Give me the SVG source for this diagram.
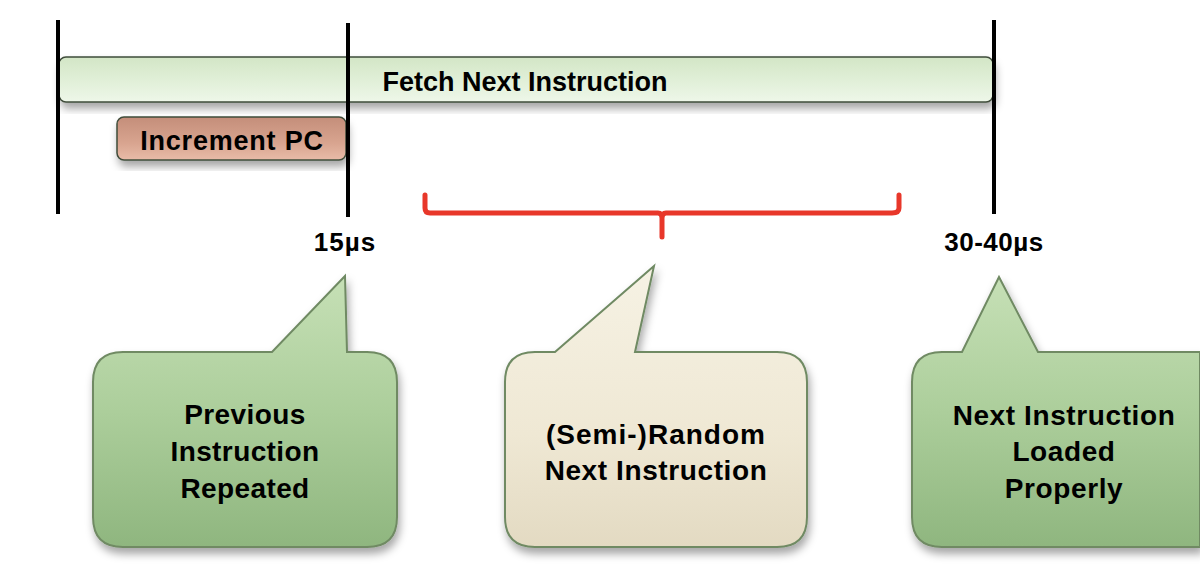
<svg xmlns="http://www.w3.org/2000/svg" width="1200" height="564" viewBox="0 0 1200 564">
<defs>
<style>
.t{font-family:"Liberation Sans",Arial,sans-serif;font-weight:bold;fill:#000;text-anchor:middle}
.tick{stroke:#000;stroke-width:4;fill:none}
.call{stroke:#6f8a63;stroke-width:2}
</style>
<linearGradient id="gFetch" x1="0" y1="0" x2="0" y2="1">
<stop offset="0" stop-color="#d3e6c6"/><stop offset="0.5" stop-color="#e0efd7"/><stop offset="1" stop-color="#eef7e9"/>
</linearGradient>
<linearGradient id="gInc" x1="0" y1="0" x2="0" y2="1">
<stop offset="0" stop-color="#c48e7a"/><stop offset="0.6" stop-color="#d8a48f"/><stop offset="1" stop-color="#e8bba8"/>
</linearGradient>
<linearGradient id="gGreen" x1="0" y1="0" x2="0" y2="1">
<stop offset="0" stop-color="#c6e0b6"/><stop offset="0.5" stop-color="#acce9b"/><stop offset="1" stop-color="#8fb67f"/>
</linearGradient>
<linearGradient id="gBeige" x1="0" y1="0" x2="0" y2="1">
<stop offset="0" stop-color="#f6f2e4"/><stop offset="0.6" stop-color="#efe8d4"/><stop offset="1" stop-color="#e3dac2"/>
</linearGradient>
<filter id="sh" x="-10%" y="-10%" width="125%" height="135%">
<feDropShadow dx="2" dy="6" stdDeviation="4" flood-color="#000" flood-opacity="0.35"/>
</filter>
</defs>
<rect width="1200" height="564" fill="#fff"/>

<g id="fetch">
<rect x="59" y="57" width="934" height="45" rx="7" fill="url(#gFetch)" stroke="#3f4c3a" stroke-width="1.5" filter="url(#sh)"/>
<text class="t" x="525" y="91" font-size="27">Fetch Next Instruction</text>
</g>
<g id="increment">
<rect x="117" y="117" width="229" height="43" rx="7" fill="url(#gInc)" stroke="#3f4c3a" stroke-width="1.5" filter="url(#sh)"/>
<text class="t" x="232" y="150" font-size="27" letter-spacing="0.8">Increment PC</text>
</g>

<g id="ticks">
<line class="tick" x1="58" y1="20" x2="58" y2="214"/>
<line class="tick" x1="348" y1="23" x2="348" y2="217"/>
<line class="tick" x1="994" y1="20" x2="994" y2="214"/>
</g>

<g id="labels">
<text class="t" x="345" y="251" font-size="26" letter-spacing="1">15µs</text>
<text class="t" x="994" y="251" font-size="26" letter-spacing="0.5">30-40µs</text>
</g>

<g id="connectors">
<path d="M425,195 V208 Q425,213 430,213 H658 Q662,213 662,218 V237 M662,218 Q662,213 666,213 H892 Q899,213 899,208 V195" fill="none" stroke="#e8372a" stroke-width="5" stroke-linecap="round" stroke-linejoin="round"/>
</g>

<g id="callout1">
<path class="call" d="M123,352 H272 L345,276 L347,352 H367 Q397,352 397,382 V517 Q397,547 367,547 H123 Q93,547 93,517 V382 Q93,352 123,352 Z" fill="url(#gGreen)" filter="url(#sh)"/>
<text class="t" x="245" y="424" font-size="28" letter-spacing="0.4">Previous</text>
<text class="t" x="245" y="461" font-size="28" letter-spacing="0.4">Instruction</text>
<text class="t" x="245" y="498" font-size="28" letter-spacing="0.4">Repeated</text>
</g>

<g id="callout2">
<path class="call" d="M535,352 H555 L654,266 L635,352 H777 Q807,352 807,382 V517 Q807,547 777,547 H535 Q505,547 505,517 V382 Q505,352 535,352 Z" fill="url(#gBeige)" filter="url(#sh)"/>
<text class="t" x="656" y="444" font-size="28" letter-spacing="1">(Semi-)Random</text>
<text class="t" x="656" y="480" font-size="28" letter-spacing="0.6">Next Instruction</text>
</g>

<g id="callout3">
<path class="call" d="M942,352 H962 L999,277 L1038,352 H1200 V547 H942 Q912,547 912,517 V382 Q912,352 942,352 Z" fill="url(#gGreen)" filter="url(#sh)"/>
<text class="t" x="1064" y="425" font-size="28" letter-spacing="0.6">Next Instruction</text>
<text class="t" x="1064" y="461" font-size="28" letter-spacing="0.6">Loaded</text>
<text class="t" x="1064" y="498" font-size="28" letter-spacing="0.6">Properly</text>
</g>
</svg>
